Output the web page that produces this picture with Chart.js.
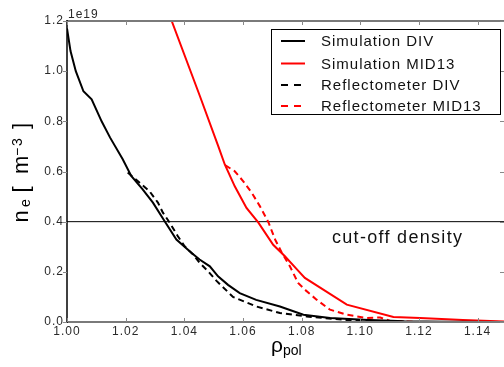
<!DOCTYPE html>
<html>
<head>
<meta charset="utf-8">
<script src="https://cdn.jsdelivr.net/npm/chart.js@4/dist/chart.umd.min.js"></script>
<style>
  html, body { margin: 0; padding: 0; background: #fff; }
  canvas { display: block; }
</style>
</head>
<body>
<canvas id="myChart" width="504" height="367"></canvas>
<script>
// rho_pol and n_e (units of 1e19 m^-3)
let rhoSimDiv = [1.000, 1.0012, 1.003, 1.0056, 1.0084, 1.0118, 1.0147, 1.019, 1.0219, 1.0258, 1.0293, 1.0333, 1.0373, 1.0424, 1.0452, 1.0487, 1.0515, 1.0549, 1.0589, 1.0645, 1.0726, 1.0806, 1.0897, 1.101, 1.115, 1.13, 1.149];
let neSimDiv  = [1.17, 1.08, 1.00, 0.92, 0.888, 0.80, 0.735, 0.649, 0.582, 0.529, 0.476, 0.402, 0.329, 0.276, 0.249, 0.222, 0.182, 0.148, 0.115, 0.088, 0.062, 0.029, 0.016, 0.009, 0.003, 0.001, 0.0];

let rhoSimMid = [1.0357, 1.0453, 1.0516, 1.0538, 1.0572, 1.0612, 1.0652, 1.0703, 1.0743, 1.0784, 1.0811, 1.0954, 1.1113, 1.1204, 1.135, 1.149];
let neSimMid  = [1.2, 0.901, 0.70, 0.628, 0.541, 0.455, 0.397, 0.308, 0.262, 0.21, 0.176, 0.069, 0.02, 0.016, 0.008, 0.002];

let rhoRefDiv = [1.0207, 1.0247, 1.0281, 1.031, 1.0327, 1.035, 1.0378, 1.0401, 1.043, 1.0452, 1.0481, 1.0509, 1.0566, 1.0645, 1.0726, 1.0817, 1.0954, 1.1066, 1.12];
let neRefDiv  = [0.596, 0.556, 0.522, 0.476, 0.436, 0.396, 0.342, 0.302, 0.269, 0.236, 0.202, 0.165, 0.10, 0.062, 0.036, 0.022, 0.008, 0.001, 0.0];

let rhoRefMid = [1.054, 1.0572, 1.0601, 1.063, 1.0658, 1.0687, 1.071, 1.0733, 1.076, 1.0788, 1.0811, 1.0851, 1.0897, 1.0954, 1.1022, 1.1068, 1.11, 1.12];
let neRefMid  = [0.625, 0.601, 0.561, 0.515, 0.461, 0.397, 0.328, 0.275, 0.222, 0.156, 0.129, 0.089, 0.049, 0.029, 0.016, 0.018, 0.005, 0.0];

let cutoffDensity = 0.4;
let rhoRange = [1.0, 1.149];

const pts = (xs, ys) => xs.map((x, i) => ({ x: x, y: ys[i] }));

Chart.defaults.font.family = "'Liberation Sans', Arial, sans-serif";
Chart.defaults.color = '#2a2a2a';

let ctx = document.getElementById('myChart').getContext('2d');

const extras = {
  id: 'extras',
  beforeDraw: (chart) => {
    chart.ctx.letterSpacing = '1px';
  },
  afterDraw: (chart) => {
    const c = chart.ctx;
    const a = chart.chartArea;
    const xs = chart.scales.x, ys = chart.scales.y;
    c.save();
    c.letterSpacing = '0px';

    // spines
    c.strokeStyle = '#7a7a7a';
    c.lineWidth = 2;
    c.beginPath();
    c.moveTo(a.left, a.top); c.lineTo(a.right, a.top);
    c.moveTo(a.left, a.bottom); c.lineTo(a.right, a.bottom);
    c.stroke();
    c.strokeStyle = '#000';
    c.lineWidth = 1.5;
    c.beginPath();
    c.moveTo(a.left, a.top - 1); c.lineTo(a.left, a.bottom + 1);
    c.stroke();

    // tick marks
    c.strokeStyle = '#888';
    c.lineWidth = 1;
    c.beginPath();
    xs.ticks.forEach(t => {
      const px = Math.round(xs.getPixelForValue(t.value)) + 0.5;
      c.moveTo(px, a.top); c.lineTo(px, a.top + 4);
      c.moveTo(px, a.bottom); c.lineTo(px, a.bottom - 4);
    });
    ys.ticks.forEach(t => {
      const py = Math.round(ys.getPixelForValue(t.value)) + 0.5;
      c.moveTo(a.left - 4, py); c.lineTo(a.left, py);
      c.moveTo(a.right - 4, py); c.lineTo(a.right, py);
    });
    c.stroke();

    // offset text
    c.fillStyle = '#2a2a2a';
    c.font = "12px 'Liberation Sans', Arial";
    c.letterSpacing = '1px';
    c.textBaseline = 'alphabetic';
    c.textAlign = 'left';
    c.fillText('1e19', a.left + 1, 18);

    // cut-off label
    c.fillStyle = '#111';
    c.font = "18px 'Liberation Sans', Arial";
    c.letterSpacing = '1.3px';
    c.fillText('cut-off density', 332, 243);

    // x title
    c.letterSpacing = '0px';
    c.fillStyle = '#000';
    c.font = "21px 'Liberation Sans', Arial";
    c.fillText('\u03c1', 271, 352);
    c.font = "14px 'Liberation Sans', Arial";
    c.fillText('pol', 283, 355);

    // y title (rotated)
    c.save();
    c.rotate(-Math.PI / 2);
    const put = (txt, size, yStart, base) => {
      c.font = size + "px 'Liberation Sans', Arial";
      c.fillText(txt, -yStart, base);
    };
    put('n', 22, 222.5, 27.5);
    put('e', 14, 207, 29.5);
    put('[', 22, 192.5, 27.5);
    put('m', 22, 174, 27.5);
    put('\u2212', 14, 156, 22);
    put('3', 14, 146, 22);
    put(']', 22, 129, 27.5);
    c.restore();

    // legend
    const lx = 271.5, ly = 29.5, lw = 229, lh = 85;
    c.fillStyle = '#fff';
    c.fillRect(lx, ly, lw, lh);
    c.strokeStyle = '#000';
    c.lineWidth = 1;
    c.strokeRect(lx, ly, lw, lh);
    c.font = "15px 'Liberation Sans', Arial";
    c.letterSpacing = '1px';
    c.textBaseline = 'middle';
    const rowsY = [41, 63.5, 85, 106];
    chart.data.datasets.filter(d => d.label).forEach((d, i) => {
      const y = rowsY[i];
      c.strokeStyle = d.borderColor;
      c.lineWidth = 2;
      c.setLineDash(d.borderDash ? [7, 6] : []);
      c.beginPath();
      c.moveTo(281, y); c.lineTo(305, y);
      c.stroke();
      c.setLineDash([]);
      c.fillStyle = '#111';
      c.fillText(d.label, 321, y + 1);
    });
    c.restore();
  }
};

let myChart = new Chart(ctx, {
  type: 'line',
  data: {
    datasets: [
      { label: 'Simulation DIV', data: pts(rhoSimDiv, neSimDiv), borderColor: '#000', borderWidth: 2 },
      { label: 'Simulation MID13', data: pts(rhoSimMid, neSimMid), borderColor: '#f00', borderWidth: 2 },
      { label: 'Reflectometer DIV', data: pts(rhoRefDiv, neRefDiv), borderColor: '#000', borderWidth: 2, borderDash: [6, 4] },
      { label: 'Reflectometer MID13', data: pts(rhoRefMid, neRefMid), borderColor: '#f00', borderWidth: 2, borderDash: [6, 4] },
      { data: pts(rhoRange, [cutoffDensity, cutoffDensity]), borderColor: '#000', borderWidth: 1 }
    ]
  },
  options: {
    responsive: false,
    animation: false,
    layout: { padding: { top: 21, right: 0, left: 0, bottom: 0 } },
    elements: { point: { radius: 0 }, line: { tension: 0 } },
    plugins: {
      legend: { display: false },
      tooltip: { enabled: false }
    },
    scales: {
      x: {
        type: 'linear',
        min: rhoRange[0],
        max: rhoRange[1],
        grid: { display: false, drawTicks: false },
        border: { display: false },
        ticks: {
          stepSize: 0.02,
          includeBounds: false,
          maxRotation: 0,
          padding: 2,
          font: { size: 12 },
          callback: (v) => v.toFixed(2)
        },
        afterFit: (s) => { s.height = 45; }
      },
      y: {
        min: 0,
        max: 1.2,
        grid: { display: false, drawTicks: false },
        border: { display: false },
        ticks: {
          stepSize: 0.2,
          padding: 3,
          font: { size: 12 },
          callback: (v) => v.toFixed(1)
        },
        afterFit: (s) => { s.width = 67; }
      }
    }
  },
  plugins: [extras]
});
</script>
</body>
</html>
